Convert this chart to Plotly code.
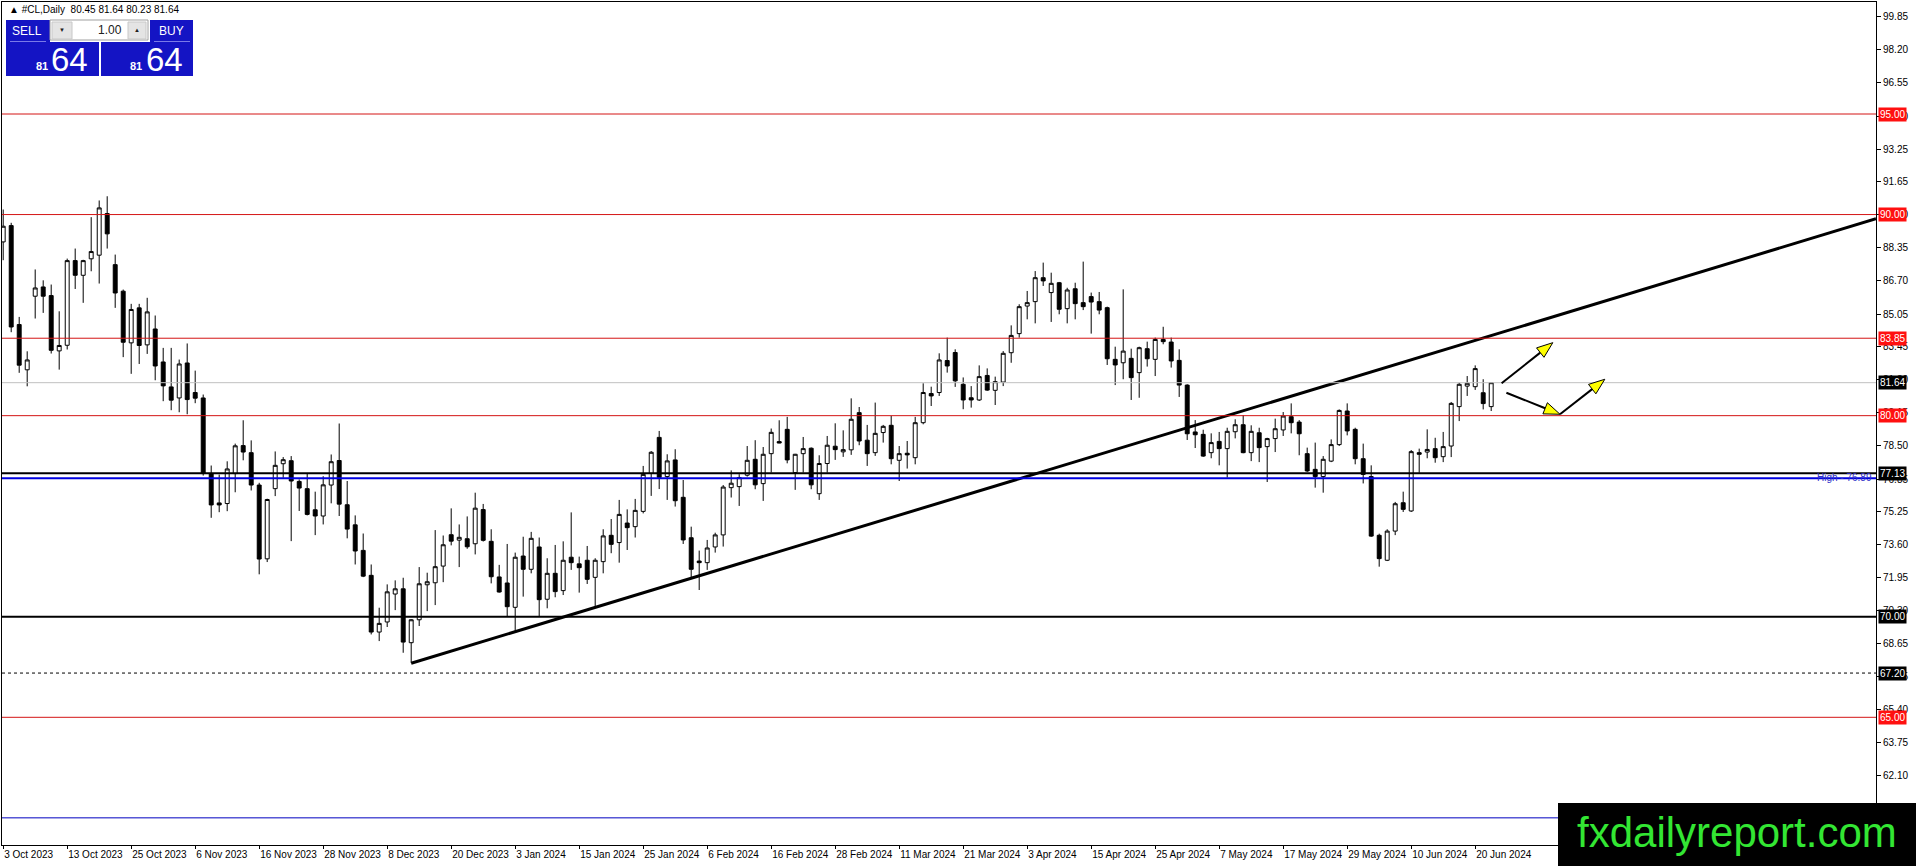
import numpy as np
import pandas as pd
import plotly.graph_objects as go

# ---- data -------------------------------------------------------------
# trading days shown on the chart (broker skips these holidays)
holidays = ["2023-12-25", "2024-01-01", "2024-03-29"]
dates = [d for d in pd.bdate_range("2023-10-03", "2024-06-24") if d.strftime("%Y-%m-%d") not in holidays]

opens = [
    88.64, 89.45, 84.53, 82.28, 85.94, 86.40, 85.97, 83.22, 83.50, 87.71,
    86.98, 87.80, 87.98, 90.05, 87.51, 86.19, 83.62, 85.36, 83.52, 84.31,
    82.67, 81.43, 80.88, 82.62, 81.15, 80.88, 77.12, 75.66, 75.63, 77.12,
    78.51, 78.16, 76.55, 72.88, 76.37, 77.61, 77.76, 76.73, 76.37, 75.32,
    75.01, 76.55, 77.77, 75.57, 74.57, 73.30, 72.06, 69.24, 69.74, 71.13,
    71.39, 68.71, 69.85, 71.59, 71.69, 72.52, 74.08, 73.81, 73.88, 73.63,
    75.33, 73.75, 71.98, 71.68, 70.47, 73.02, 72.36, 73.47, 70.87, 72.16,
    71.30, 72.96, 72.63, 72.81, 71.96, 72.74, 74.05, 73.69, 74.66, 74.48,
    75.24, 77.13, 78.92, 76.97, 77.80, 75.94, 73.93, 72.77, 72.69, 73.47,
    74.07, 76.42, 76.47, 77.04, 77.83, 76.62, 78.11, 78.71, 79.32, 77.17,
    78.11, 78.38, 76.12, 77.62, 78.48, 78.20, 78.30, 80.15, 78.78, 78.16,
    79.16, 79.52, 77.78, 78.13, 77.91, 79.65, 81.10, 81.15, 82.74, 83.14,
    81.56, 80.89, 80.78, 82.00, 81.26, 81.67, 83.13, 84.08, 85.45, 85.67,
    86.86, 86.12, 86.61, 85.32, 86.31, 85.62, 85.92, 85.67, 85.37, 82.80,
    82.63, 82.85, 82.14, 83.33, 82.80, 83.79, 83.66, 82.75, 81.52, 79.19,
    79.07, 78.16, 78.72, 78.36, 79.20, 79.55, 78.16, 79.15, 78.46, 78.86,
    79.29, 79.95, 79.68, 78.11, 77.33, 76.97, 77.74, 78.56, 80.23, 79.32,
    77.86, 76.97, 74.05, 72.81, 74.26, 75.67, 75.26, 78.16, 78.19, 78.36,
    77.96, 78.49, 80.45, 81.47, 81.44, 81.14, 80.45,
]
highs = [
    90.25, 89.59, 84.91, 83.20, 87.27, 86.73, 86.52, 85.19, 87.81, 88.31,
    87.75, 89.87, 90.70, 90.91, 88.01, 86.27, 85.56, 85.56, 85.86, 84.98,
    83.37, 83.37, 82.79, 83.59, 82.24, 81.05, 77.52, 77.07, 77.73, 78.61,
    79.77, 78.77, 76.66, 75.87, 78.22, 77.94, 77.99, 76.83, 77.13, 76.22,
    76.99, 78.07, 79.61, 76.75, 75.04, 74.14, 72.60, 70.45, 71.61, 71.81,
    71.94, 69.88, 72.47, 72.19, 74.31, 74.04, 75.39, 74.59, 74.99, 76.17,
    75.61, 74.35, 72.58, 73.62, 73.19, 73.98, 74.22, 73.94, 72.91, 73.57,
    73.75, 75.19, 72.99, 73.52, 72.91, 74.35, 74.86, 75.81, 75.34, 75.86,
    77.50, 78.24, 79.24, 78.08, 78.33, 76.80, 74.48, 73.29, 73.82, 74.18,
    76.55, 77.28, 77.09, 78.49, 78.78, 78.44, 79.36, 79.77, 79.94, 78.10,
    78.94, 78.42, 78.03, 78.99, 79.62, 79.27, 80.86, 80.43, 79.54, 80.65,
    79.54, 79.99, 78.49, 78.74, 79.94, 81.61, 81.44, 83.10, 83.88, 83.30,
    81.90, 81.47, 82.50, 82.35, 81.94, 83.21, 84.49, 85.54, 86.20, 87.19,
    87.61, 87.11, 86.65, 86.36, 86.61, 87.66, 86.12, 86.15, 85.42, 83.43,
    86.28, 83.33, 83.43, 83.68, 83.88, 84.42, 83.88, 83.30, 81.56, 79.78,
    79.30, 79.12, 79.19, 79.40, 79.82, 80.02, 79.52, 79.40, 78.90, 79.85,
    80.18, 80.61, 79.78, 78.41, 78.66, 77.99, 78.82, 80.31, 80.61, 79.40,
    78.61, 77.53, 74.13, 74.35, 75.71, 76.22, 78.29, 78.36, 79.32, 78.90,
    79.19, 80.68, 81.64, 81.97, 82.50, 81.81, 81.64,
]
lows = [
    87.73, 84.15, 82.13, 81.46, 84.83, 85.11, 83.09, 82.29, 83.29, 86.30,
    85.61, 87.18, 86.57, 88.31, 85.36, 82.91, 82.08, 82.57, 83.07, 81.76,
    80.72, 80.27, 80.17, 80.07, 80.62, 77.02, 74.92, 75.20, 75.25, 76.19,
    77.78, 76.28, 72.11, 72.72, 76.00, 76.91, 73.76, 75.26, 75.04, 74.06,
    74.59, 75.64, 75.01, 73.90, 72.60, 71.97, 69.12, 68.79, 69.49, 70.33,
    68.21, 67.71, 69.54, 70.28, 70.58, 71.72, 73.55, 72.47, 73.38, 73.10,
    73.74, 71.66, 71.20, 70.01, 69.29, 71.00, 72.16, 70.01, 70.42, 70.97,
    71.08, 72.33, 71.20, 71.63, 70.50, 72.16, 73.16, 72.69, 73.32, 73.94,
    75.14, 76.01, 76.35, 75.81, 75.48, 73.62, 71.91, 71.33, 72.33, 73.19,
    73.49, 75.93, 75.51, 76.97, 76.34, 75.76, 77.17, 78.63, 77.63, 76.31,
    77.17, 76.34, 75.81, 77.17, 77.80, 77.95, 78.05, 78.53, 77.50, 78.00,
    78.66, 77.58, 76.75, 77.37, 77.58, 79.57, 80.48, 80.98, 82.14, 81.43,
    80.32, 80.40, 80.73, 81.23, 80.53, 81.47, 82.63, 83.88, 84.79, 84.59,
    86.45, 84.66, 85.04, 84.59, 84.79, 85.25, 84.08, 85.04, 82.52, 81.52,
    81.81, 80.78, 80.89, 82.44, 81.97, 83.55, 82.39, 80.93, 78.79, 78.39,
    77.95, 77.88, 77.53, 76.92, 78.87, 78.13, 77.74, 77.69, 76.70, 78.19,
    78.99, 79.12, 78.03, 77.20, 76.42, 76.17, 77.69, 78.49, 79.02, 77.58,
    76.63, 73.97, 72.49, 72.77, 74.06, 75.21, 75.21, 77.16, 77.88, 77.66,
    77.69, 77.94, 79.73, 80.98, 81.28, 80.31, 80.23,
]
closes = [
    89.42, 84.41, 82.51, 82.77, 86.35, 85.94, 83.25, 83.49, 87.71, 86.98,
    87.71, 88.16, 90.33, 89.04, 86.10, 83.65, 85.28, 83.49, 85.16, 82.47,
    81.48, 80.77, 82.57, 80.80, 80.87, 77.12, 75.56, 75.56, 77.35, 78.50,
    78.19, 76.55, 72.87, 75.83, 77.53, 77.81, 76.75, 76.40, 75.09, 75.01,
    76.56, 77.71, 75.60, 74.36, 73.27, 72.02, 69.24, 69.67, 71.24, 71.39,
    68.74, 69.85, 71.64, 71.74, 72.49, 73.58, 73.76, 73.95, 73.48, 75.40,
    73.80, 71.99, 71.23, 70.50, 72.96, 72.36, 73.90, 70.85, 72.16, 71.25,
    72.81, 72.69, 72.44, 71.86, 72.81, 74.02, 73.60, 75.09, 74.43, 75.29,
    77.08, 78.18, 76.93, 77.75, 75.77, 73.82, 72.36, 72.69, 73.42, 74.07,
    76.45, 76.64, 76.92, 77.78, 76.56, 78.08, 79.17, 78.64, 77.80, 78.08,
    78.36, 76.56, 77.62, 78.53, 78.31, 78.31, 79.82, 78.74, 78.11, 79.12,
    79.47, 77.86, 78.11, 78.05, 79.65, 81.15, 80.98, 82.77, 82.47, 81.73,
    80.78, 80.78, 81.94, 81.27, 81.69, 83.10, 83.99, 85.42, 85.62, 86.86,
    86.70, 86.58, 85.29, 86.25, 85.57, 85.42, 85.65, 85.25, 82.83, 82.52,
    83.21, 81.89, 83.38, 82.83, 83.79, 83.68, 82.72, 81.52, 79.10, 79.05,
    77.99, 78.66, 78.36, 79.22, 79.55, 78.16, 79.22, 78.41, 78.86, 79.35,
    79.98, 79.65, 79.10, 77.25, 76.97, 77.83, 78.56, 80.26, 79.24, 77.86,
    77.08, 74.01, 72.89, 74.26, 75.62, 75.34, 78.21, 78.08, 78.32, 77.91,
    78.46, 80.61, 81.56, 81.61, 82.34, 80.60, 81.64,
]

date_tick_labels = [
    "3 Oct 2023", "13 Oct 2023", "25 Oct 2023", "6 Nov 2023", "16 Nov 2023",
    "28 Nov 2023", "8 Dec 2023", "20 Dec 2023", "3 Jan 2024", "15 Jan 2024",
    "25 Jan 2024", "6 Feb 2024", "16 Feb 2024", "28 Feb 2024", "11 Mar 2024",
    "21 Mar 2024", "3 Apr 2024", "15 Apr 2024", "25 Apr 2024", "7 May 2024",
    "17 May 2024", "29 May 2024", "10 Jun 2024", "20 Jun 2024",
]
price_ticks = [99.85, 98.20, 96.55, 94.90, 93.25, 91.65, 90.00, 88.35, 86.70,
               85.05, 83.45, 81.80, 80.15, 78.50, 76.85, 75.25, 73.60, 71.95,
               70.30, 68.65, 67.05, 65.40, 63.75, 62.10, 60.45]

red_levels = [95.00, 90.00, 83.85, 80.00, 65.00]
bold_black_levels = [77.13, 70.00]
dashed_level = 67.20
bid_price = 81.64
high_level = 76.89
low_blue_level = 60.00

# trendline anchors (bar index, price)
trend_x = [51, 234.1]
trend_y = [67.69, 89.79]

# yellow arrows: (tail bar, tail price, tip bar, tip price)
arrows = [
    (187.3, 81.61, 193.7, 83.63),
    (187.9, 81.14, 194.6, 80.07),
    (194.6, 80.07, 200.2, 81.81),
]

# ---- geometry ----------------------------------------------------------
W, H = 1916, 866
PL, PT, PW, PH = 2, 2, 1874, 843
X0 = -0.15
X1 = X0 + PW / 8.0
Y0, Y1 = 58.65, 100.57
px_per_x = PW / (X1 - X0)
px_per_y = PH / (Y1 - Y0)


def px(x):
    return (x - PL) / PW


def py(y):
    return 1 - (y - PT) / PH


idx = np.arange(len(dates))

fig = go.Figure()
fig.add_trace(go.Candlestick(
    x=idx, open=opens, high=highs, low=lows, close=closes,
    increasing=dict(line=dict(color="black", width=1), fillcolor="white"),
    decreasing=dict(line=dict(color="black", width=1), fillcolor="black"),
    whiskerwidth=0, hoverinfo="skip", showlegend=False,
))

fig.add_trace(go.Scatter(x=trend_x, y=trend_y, mode="lines",
                         line=dict(color="black", width=3),
                         hoverinfo="skip", showlegend=False))

shapes = []
annots = []


def hline(y, color, width=1, dash="solid", x1=1):
    shapes.append(dict(type="line", xref="paper", yref="y", x0=0, x1=x1, y0=y, y1=y,
                       line=dict(color=color, width=width, dash=dash)))


for lv in red_levels:
    hline(lv, "#d41414", 1)
hline(bid_price, "#c0c0c0", 1)
for lv in bold_black_levels:
    hline(lv, "black", 2)
hline(high_level, "#0000e0", 2)
hline(dashed_level, "black", 1, "3px,3px")
hline(low_blue_level, "#0000c0", 1)


def level_label(y, bg):
    annots.append(dict(xref="paper", yref="y", x=1, y=y, xanchor="left", yanchor="middle",
                       xshift=2, text=f"{y:.2f}", showarrow=False, bgcolor=bg,
                       borderpad=1, font=dict(family="Liberation Sans", size=10, color="white")))


for lv in red_levels:
    level_label(lv, "#ff1010")
for lv in bold_black_levels + [dashed_level, bid_price]:
    level_label(lv, "black")

annots.append(dict(xref="paper", yref="y", x=1, y=high_level, xanchor="right", yanchor="middle",
                   xshift=-2, yshift=1, text="High - 76.89", showarrow=False,
                   font=dict(family="Liberation Sans", size=10, color="#3030c8")))

# arrows: black shaft + yellow head with black outline
L_HEAD, W_HEAD = 16.0, 6.0
for tx, tp, hx, hp in arrows:
    dxp = (hx - tx) * px_per_x
    dyp = (hp - tp) * px_per_y
    ln = np.hypot(dxp, dyp)
    ux, uy = dxp / ln, dyp / ln
    bx = hx - ux * L_HEAD / px_per_x
    bp = hp - uy * L_HEAD / px_per_y
    nx, ny = -uy, ux
    p1 = (bx + nx * W_HEAD / px_per_x, bp + ny * W_HEAD / px_per_y)
    p2 = (bx - nx * W_HEAD / px_per_x, bp - ny * W_HEAD / px_per_y)
    shapes.append(dict(type="line", xref="x", yref="y", x0=tx, y0=tp, x1=bx, y1=bp,
                       line=dict(color="black", width=2)))
    shapes.append(dict(type="path", xref="x", yref="y",
                       path=f"M {hx},{hp} L {p1[0]},{p1[1]} L {p2[0]},{p2[1]} Z",
                       fillcolor="#ffff00", line=dict(color="black", width=1)))

# one-click trading panel (top-left)
BLUE = "#1414c4"


def rect(x0, y0, x1, y1, fill, line=None):
    shapes.append(dict(type="rect", xref="paper", yref="paper",
                       x0=px(x0), x1=px(x1), y0=py(y0), y1=py(y1),
                       fillcolor=fill, line=dict(color=line or fill, width=1 if line else 0),
                       layer="above"))


def text(x, y, s, size, color, anchor="center", family="Liberation Sans"):
    annots.append(dict(xref="paper", yref="paper", x=px(x), y=py(y), text=s,
                       xanchor=anchor, yanchor="middle", showarrow=False,
                       font=dict(family=family, size=size, color=color)))


rect(6, 20, 50, 42, BLUE)
rect(150, 20, 193, 42, BLUE)
rect(6, 42, 99, 76, BLUE)
rect(101, 42, 193, 76, BLUE)
rect(50, 20, 148, 40, "white", "#a0a0a0")
rect(52, 22, 72, 39, "#e4e4e4", "#c8c8c8")
rect(128, 22, 146, 39, "#e4e4e4", "#c8c8c8")
shapes.append(dict(type="line", xref="paper", yref="paper", x0=px(10), x1=px(46),
                   y0=py(41.5), y1=py(41.5), line=dict(color="#7a7ae8", width=1)))
shapes.append(dict(type="line", xref="paper", yref="paper", x0=px(154), x1=px(190),
                   y0=py(41.5), y1=py(41.5), line=dict(color="#7a7ae8", width=1)))
text(27, 31, "SELL", 12, "white")
text(171, 31, "BUY", 12, "white")
text(62, 30, "▼", 6, "#202020")
text(137, 30, "▲", 6, "#202020")
text(124, 30, "1.00", 12, "#202020", anchor="right")
text(42, 66, "<b>81</b>", 11, "white")
text(69, 59, "64", 33, "white")
text(136, 66, "<b>81</b>", 11, "white")
text(164, 59, "64", 33, "white")

# header line
text(7, 10, "▲ #CL,Daily  80.45 81.64 80.23 81.64", 10, "black", anchor="left")

# watermark
rect(1558, 803, 1916, 866, "black")
text(1737, 832, "fxdailyreport.com", 42, "#33e633", family="Liberation Sans")

fig.update_layout(
    width=W, height=H,
    margin=dict(l=PL, r=W - PL - PW, t=PT, b=H - PT - PH),
    paper_bgcolor="white", plot_bgcolor="white",
    showlegend=False, shapes=shapes, annotations=annots,
    font=dict(family="Liberation Sans", size=10, color="black"),
    xaxis=dict(range=[X0, X1], rangeslider=dict(visible=False), showgrid=False,
               zeroline=False, tickvals=list(range(0, len(dates), 8)),
               ticktext=date_tick_labels, ticks="outside", ticklen=3, tickcolor="black",
               ticklabelposition="outside right", tickangle=0, tickfont=dict(size=10),
               showline=True, linecolor="black", linewidth=1, mirror=True),
    yaxis=dict(range=[Y0, Y1], side="right", showgrid=False, zeroline=False,
               tickvals=price_ticks, ticktext=[f"{v:.2f}" for v in price_ticks],
               ticks="outside", ticklen=4, tickcolor="black", tickfont=dict(size=10),
               showline=True, linecolor="black", linewidth=1, mirror=True,
               automargin=False),
)

# page body has a default 8px margin; remove it so the figure sits at the top-left
fig.write_html("out.html", config={"displayModeBar": False},
               post_script="document.body.style.margin='0px';")
